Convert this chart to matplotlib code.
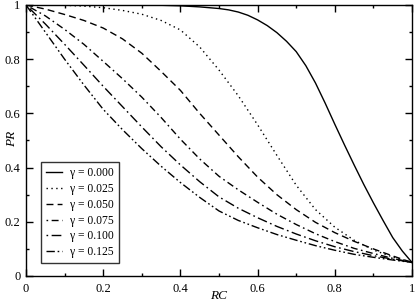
import matplotlib
matplotlib.use("Agg")
from matplotlib import pyplot as plt
from matplotlib.ticker import MultipleLocator

plt.rcParams['font.family'] = ['Liberation Serif', 'DejaVu Serif']

# recall (RC) values shared by the gamma > 0 curves
rc = [0.00, 0.05, 0.10, 0.15, 0.20, 0.25, 0.30, 0.35, 0.40, 0.45, 0.50,
      0.55, 0.60, 0.65, 0.70, 0.75, 0.80, 0.85, 0.90, 0.95, 1.00]
# gamma = 0 curve bends sharply, so it is read at more points
rc_000 = [0.00, 0.10, 0.20, 0.30, 0.35, 0.40, 0.45, 0.50, 0.525, 0.55, 0.575, 0.60,
          0.625, 0.65, 0.675, 0.70, 0.725, 0.75, 0.775, 0.80, 0.825, 0.85, 0.875,
          0.90, 0.925, 0.95, 0.975, 1.00]

# precision (PR) for each gamma
pr_000 = [1.000, 1.000, 1.000, 1.000, 0.999, 0.997, 0.993, 0.987, 0.982, 0.974, 0.962, 0.945,
          0.924, 0.898, 0.866, 0.828, 0.776, 0.712, 0.638, 0.560, 0.484, 0.410, 0.338,
          0.270, 0.205, 0.142, 0.092, 0.050]
pr_025 = [1.000, 1.000, 0.999, 0.996, 0.990, 0.980, 0.966, 0.943, 0.908, 0.845, 0.760,
          0.665, 0.558, 0.445, 0.335, 0.245, 0.180, 0.132, 0.096, 0.070, 0.050]
pr_050 = [1.000, 0.985, 0.965, 0.943, 0.915, 0.875, 0.822, 0.755, 0.685, 0.600, 0.520,
          0.440, 0.365, 0.300, 0.245, 0.198, 0.160, 0.128, 0.100, 0.074, 0.050]
pr_075 = [1.000, 0.960, 0.910, 0.855, 0.792, 0.728, 0.660, 0.585, 0.505, 0.432, 0.368,
          0.318, 0.272, 0.228, 0.190, 0.156, 0.127, 0.102, 0.083, 0.065, 0.050]
pr_100 = [1.000, 0.930, 0.855, 0.778, 0.700, 0.625, 0.550, 0.477, 0.410, 0.348, 0.292,
          0.250, 0.215, 0.183, 0.155, 0.130, 0.108, 0.090, 0.075, 0.062, 0.050]
pr_125 = [1.000, 0.900, 0.800, 0.705, 0.615, 0.540, 0.470, 0.405, 0.345, 0.290, 0.240,
          0.205, 0.178, 0.153, 0.132, 0.112, 0.095, 0.080, 0.069, 0.059, 0.050]

labels = ["γ = 0.000", "γ = 0.025", "γ = 0.050", "γ = 0.075", "γ = 0.100", "γ = 0.125"]
xs = [rc_000, rc, rc, rc, rc, rc]
series = [pr_000, pr_025, pr_050, pr_075, pr_100, pr_125]
styles = ['-',
          (0, (1, 2.5)),
          (0, (5, 3)),
          (0, (1.2, 2.5, 5, 2.5)),
          (0, (1.2, 2.5, 7, 2.5)),
          (0, (6, 2, 1.2, 2, 1.2, 2))]

fig = plt.figure(figsize=(4.15, 3.02), dpi=100, facecolor="white")
ax = fig.add_axes([26 / 415, 26 / 302, 386 / 415, 271 / 302])

for x, pr, ls, lab in zip(xs, series, styles, labels):
    ax.plot(x, pr, color='black', lw=1.0, linestyle=ls, label=lab)

ax.set_xlim(0, 1)
ax.set_ylim(0, 1)
ax.xaxis.set_major_locator(MultipleLocator(0.2))
ax.xaxis.set_minor_locator(MultipleLocator(0.1))
ax.yaxis.set_major_locator(MultipleLocator(0.2))
ax.yaxis.set_minor_locator(MultipleLocator(0.1))
ax.xaxis.set_major_formatter(plt.FuncFormatter(lambda v, p: "%g" % round(v, 1)))
ax.yaxis.set_major_formatter(plt.FuncFormatter(lambda v, p: "%g" % round(v, 1)))

ax.tick_params(which='both', direction='in', top=True, right=True, width=1.0,
               labelsize=9, colors='black')
ax.tick_params(which='major', length=5)
ax.tick_params(which='minor', length=2.5)
ax.tick_params(axis='x', pad=5)
ax.tick_params(axis='y', pad=4)
for sp in ax.spines.values():
    sp.set_linewidth(1.0)

fig.text(219 / 415, 1 - 296 / 302, "RC", ha='center', va='center',
         fontsize=9.5, style='italic')
fig.text(12 / 415, 1 - 139 / 302, "PR", ha='center', va='center',
         fontsize=9.5, style='italic', rotation=90)

leg = ax.legend(loc='lower left', bbox_to_anchor=(15 / 386, 13 / 271), borderaxespad=0,
                fontsize=8.4, frameon=True, fancybox=False, handlelength=1.4,
                handletextpad=0.7, labelspacing=0.33, borderpad=0.4)
leg.get_frame().set_edgecolor('black')
leg.get_frame().set_linewidth(1.0)

fig.savefig("out.png", dpi=100)
